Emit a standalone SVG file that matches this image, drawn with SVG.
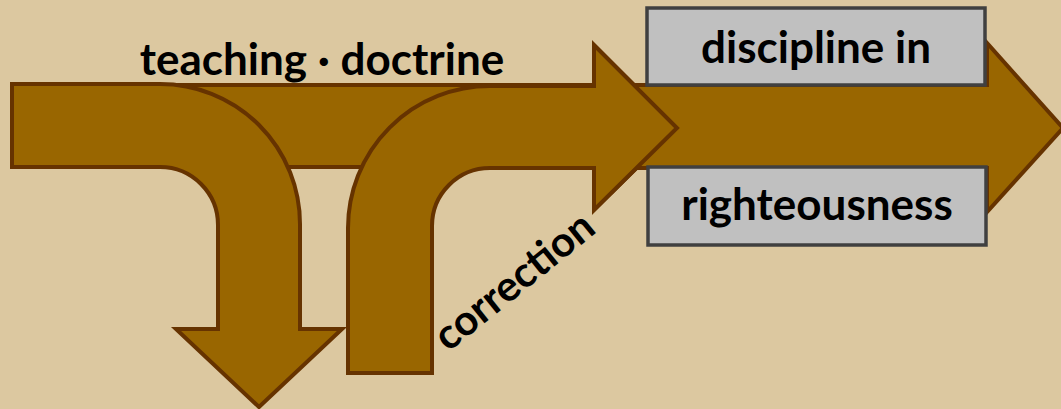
<svg xmlns="http://www.w3.org/2000/svg" width="1061" height="409" viewBox="0 0 1061 409">
<style>
.arrow{fill:#996600;stroke:#663300;stroke-width:4;stroke-linejoin:miter}
.box{fill:#c0c0c0;stroke:#404040;stroke-width:3.5}
.lbl{font-family:Lato,"Open Sans","Liberation Sans",sans-serif;font-weight:700;font-size:44px;fill:#000}
</style>
<rect width="1061" height="409" fill="#dcc8a0"/>
<g id="connectors">
<path id="straight-arrow" class="arrow" d="M12,85 L594,85 L594,45 L677,128 L594,210 L594,167 L12,167 Z"/>
<path id="big-arrow" class="arrow" d="M620,85 L987,85 L987,43 L1063,128 L987,212 L987,168 L620,168 Z"/>
<path id="correction-arrow" class="arrow" d="M348,373 L348,228 A142,142 0 0 1 490,86 L594,86 L594,45 L677,128 L594,210 L594,168 L490,168 A58,58 0 0 0 432,226 L432,373 Z"/>
<path id="teaching-arrow" class="arrow" d="M12,84 L160,84 A140,140 0 0 1 300,224 L300,329 L342,329 L259,407 L176,329 L218,329 L218,225 A58,58 0 0 0 160,167 L12,167 Z"/>
</g>
<g id="node-discipline">
<rect class="box" x="647" y="8" width="338" height="77"/>
<text class="lbl" x="816" y="63" text-anchor="middle">discipline in</text>
</g>
<g id="node-righteousness">
<rect class="box" x="648" y="167" width="338" height="78"/>
<text class="lbl" x="817" y="220" text-anchor="middle">righteousness</text>
</g>
<g id="label-teaching">
<text class="lbl" x="322" y="75" text-anchor="middle">teaching · doctrine</text>
</g>
<g id="label-correction">
<text class="lbl" style="font-size:42px" transform="translate(523,292) rotate(-39)" text-anchor="middle">correction</text>
</g>
</svg>
